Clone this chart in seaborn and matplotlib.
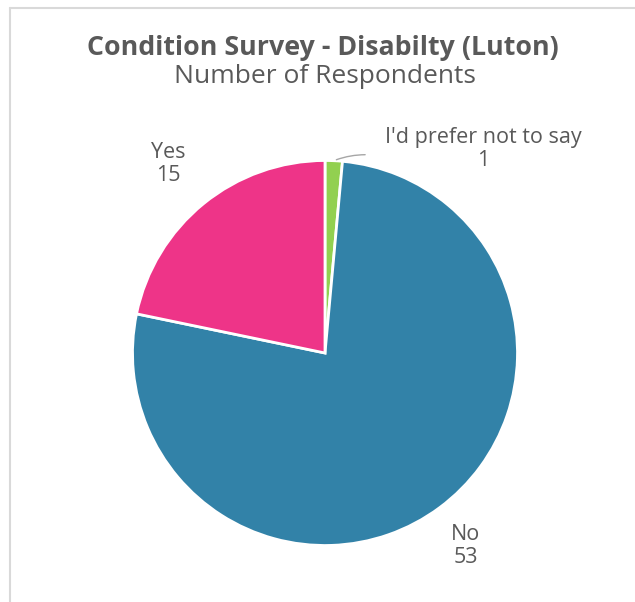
import numpy as np
import seaborn as sns
import matplotlib.pyplot as plt
from matplotlib.lines import Line2D

# Chart data
categories = ["I'd prefer not to say", "No", "Yes"]
counts = [1, 53, 15]
colours = ["#92d050", "#3282a8", "#ee3488"]

sns.set_theme(style="white")
plt.rcParams['font.family'] = ['Open Sans', 'DejaVu Sans']
grey = "#595959"

fig = plt.figure(figsize=(6.35, 6.02), dpi=100)

# Light chart border (top and left)
fig.add_artist(Line2D([10/635, 1.0], [1 - 8/602, 1 - 8/602], color="#d9d9d9", lw=1.5))
fig.add_artist(Line2D([10/635, 10/635], [0, 1 - 8/602], color="#d9d9d9", lw=1.5))

# Titles
fig.text(323/635, 1 - 55/602, "Condition Survey - Disabilty (Luton)", ha="center", va="baseline",
         fontsize=19.3, fontweight="bold", color=grey)
fig.text(325/635, 1 - 83/602, "Number of Respondents", ha="center", va="baseline",
         fontsize=19, color=grey)

# Pie axes, centred on the pie
cx, cy, r = 325, 353, 192.5
ax = fig.add_axes([(cx - r) / 635, (602 - cy - r) / 602, 2 * r / 635, 2 * r / 602])
wedges, _ = ax.pie(counts, colors=colours, startangle=90, counterclock=False, radius=1,
                   wedgeprops=dict(edgecolor="white", linewidth=2))
ax.set_xlim(-1, 1)
ax.set_ylim(-1, 1)
ax.set_aspect("equal")
ax.axis("off")

# Data labels
lab = dict(ha="center", va="center", fontsize=15.5, color=grey, linespacing=1.15)
ax.text(-0.816, 0.982, f"{categories[2]}\n{counts[2]}", clip_on=False, **lab)
ax.text(0.732, -1.003, f"{categories[1]}\n{counts[1]}", clip_on=False, **lab)
ax.text(0.821, 1.060, f"{categories[0]}\n{counts[0]}", clip_on=False, **lab)

# Leader line for the small slice
w = wedges[0]
mid = np.deg2rad((w.theta1 + w.theta2) / 2)
ax.annotate("", xy=(np.cos(mid), np.sin(mid)), xytext=(0.223, 1.03),
            arrowprops=dict(arrowstyle="-", color="#a6a6a6", lw=1,
                            connectionstyle="arc3,rad=0.1"),
            annotation_clip=False)

fig.savefig("out.png", dpi=100)
